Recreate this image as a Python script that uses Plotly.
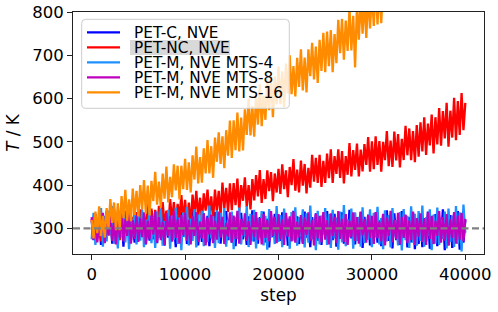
import plotly.graph_objects as go

STEP_INTERVAL = 200

pet_c = [318, 273, 334, 288, 325, 262, 321, 269, 340, 284, 329, 265, 314, 276, 337, 280, 331, 258, 323, 285, 336, 271, 311, 267, 327,
         278, 339, 282, 326, 263, 315, 272, 341, 275, 319, 266, 330, 287, 335, 260, 324, 279, 333, 270, 317, 257, 328, 274, 338, 281,
         332, 264, 320, 276, 343, 283, 327, 261, 316, 269, 335, 278, 329, 259, 321, 272, 338, 286, 333, 265, 325, 281, 340, 273, 313,
         267, 323, 259, 330, 282, 336, 275, 314, 262, 328, 279, 342, 270, 319, 265, 326, 284, 339, 268, 322, 256, 331, 280, 334, 273,
         324, 271, 337, 285, 331, 260, 318, 274, 341, 277, 328, 264, 315, 267, 339, 279, 330, 257, 326, 283, 335, 272, 322, 262, 333,
         283, 340, 269, 321, 273, 334, 258, 325, 281, 337, 265, 316, 271, 343, 277, 330, 263, 320, 274, 338, 255, 327, 278, 332, 261,
         328, 276, 336, 267, 319, 259, 331, 282, 342, 271, 323, 254, 335, 273, 317, 262, 340, 279, 330, 256, 326, 268, 337, 252, 321,
         264, 329, 257, 324, 270, 339, 253, 318, 266, 333, 259, 327, 275, 344, 250, 322, 262, 331, 255, 335, 272, 340, 251, 326, 267,
         320]

pet_nc = [322, 283, 332, 277, 314, 270, 331, 295, 340, 284, 322, 278, 345, 294, 333, 273, 329, 287, 341, 300, 346, 286, 327, 283, 338,
          295, 344, 283, 333, 293, 357, 309, 346, 293, 343, 287, 352, 311, 361, 307, 341, 302, 368, 315, 361, 300, 357, 324, 377, 315,
          366, 310, 360, 307, 378, 331, 387, 324, 371, 317, 381, 341, 390, 329, 374, 319, 390, 340, 387, 330, 406, 347, 394, 338, 404,
          342, 405, 354, 415, 340, 400, 364, 418, 350, 400, 344, 414, 365, 423, 374, 435, 359, 414, 368, 434, 386, 430, 363, 427, 383,
          438, 380, 448, 391, 434, 372, 442, 400, 460, 387, 436, 383, 457, 399, 449, 381, 440, 394, 470, 408, 463, 405, 470, 396, 456,
          405, 473, 416, 483, 405, 467, 426, 483, 417, 479, 404, 467, 424, 497, 420, 481, 435, 496, 420, 482, 432, 495, 447, 511, 431,
          501, 437, 513, 447, 502, 431, 500, 458, 525, 444, 503, 442, 524, 457, 518, 441, 507, 458, 537, 469, 531, 458, 525, 453, 539,
          466, 545, 478, 557, 470, 542, 492, 563, 473, 557, 494, 578, 491, 571, 508, 590, 489, 572, 510, 602, 504, 594, 516, 613, 527,
          590]

pet_m_mts4 = [275, 336, 262, 318, 283, 347, 258, 329, 270, 341, 287, 352, 265, 322, 254, 338, 279, 345, 268, 331, 252, 326, 281, 349, 263,
              334, 272, 344, 257, 320, 285, 351, 266, 327, 255, 339, 278, 346, 260, 317, 288, 343, 253, 330, 274, 348, 264, 325, 250, 337,
              280, 350, 261, 323, 271, 345, 256, 332, 284, 341, 259, 319, 268, 353, 277, 328, 255, 342, 266, 336, 289, 347, 258, 321, 273,
              339, 252, 327, 276, 348, 263, 316, 282, 351, 257, 334, 270, 343, 254, 324, 286, 340, 261, 329, 251, 345, 279, 318, 264, 352,
              269, 331, 257, 346, 284, 322, 253, 338, 272, 349, 260, 326, 281, 344, 256, 335, 267, 353, 275, 320, 250, 341, 263, 330, 286,
              347, 262, 333, 255, 343, 277, 325, 251, 339, 268, 354, 259, 321, 280, 346, 253, 337, 271, 327, 258, 349, 266, 318, 274, 344,
              257, 336, 279, 350, 263, 324, 252, 342, 270, 331, 256, 347, 284, 319, 261, 338, 249, 345, 273, 329, 255, 351, 267, 334, 260,
              340, 271, 353, 258, 326, 283, 344, 250, 332, 265, 348, 262, 321, 276, 339, 254, 346, 269, 330, 257, 352, 264, 337, 247, 355,
              290]

pet_m_mts8 = [326, 274, 331, 268, 317, 281, 336, 266, 322, 285, 333, 271, 314, 263, 328, 279, 338, 270, 321, 283, 334, 265, 319, 276, 330,
              269, 324, 280, 337, 264, 318, 275, 332, 286, 339, 267, 326, 273, 315, 262, 335, 282, 329, 270, 340, 278, 321, 265, 331, 284,
              336, 272, 320, 263, 329, 283, 338, 269, 316, 277, 334, 261, 325, 286, 332, 266, 318, 274, 339, 279, 327, 264, 313, 281, 337,
              268, 330, 276, 341, 265, 322, 284, 335, 271, 317, 262, 331, 280, 338, 273, 324, 263, 334, 278, 319, 270, 340, 283, 327, 266,
              333, 275, 321, 262, 336, 281, 328, 270, 339, 267, 316, 279, 331, 264, 325, 285, 337, 272, 320, 261, 334, 277, 329, 268, 338,
              274, 319, 263, 335, 283, 327, 266, 340, 276, 322, 269, 333, 262, 318, 280, 337, 271, 326, 265, 339, 284, 321, 267, 331, 278,
              329, 264, 338, 277, 316, 270, 334, 261, 325, 282, 341, 268, 320, 275, 336, 263, 327, 279, 332, 266, 318, 273, 339, 262, 324,
              281, 335, 269, 323, 262, 337, 276, 329, 264, 318, 283, 340, 267, 326, 272, 333, 260, 321, 278, 338, 265, 330, 274, 336, 270,
              322]

pet_m_mts16 = [320, 277, 339, 289, 351, 282, 329, 279, 347, 300, 368, 313, 360, 296, 358, 296, 375, 324, 389, 318, 367, 317, 392, 331, 387,
               328, 400, 344, 412, 334, 399, 330, 410, 363, 431, 355, 408, 348, 427, 369, 443, 360, 419, 372, 448, 388, 445, 367, 445, 391,
               461, 389, 453, 383, 469, 413, 489, 404, 465, 406, 485, 427, 504, 427, 490, 417, 510, 454, 522, 449, 513, 439, 527, 468, 549,
               463, 550, 481, 568, 478, 556, 480, 575, 516, 600, 515, 582, 512, 608, 540, 633, 536, 607, 551, 646, 573, 652, 557, 651, 587,
               674, 587, 663, 580, 681, 612, 700, 610, 675, 605, 694, 627, 714, 619, 695, 614, 714, 652, 729, 644, 720, 636, 736, 664, 752,
               661, 755, 675, 758, 661, 749, 682, 782, 705, 784, 690, 780, 710, 809, 711, 791, 672, 817, 736, 831, 750, 828, 740, 844, 762,
               848, 768, 865, 771, 859, 774, 876, 802, 898, 805, 892, 808, 910]

series_names = ["PET-C, NVE", "PET-NC, NVE", "PET-M, NVE MTS-4", "PET-M, NVE MTS-8", "PET-M, NVE MTS-16"]
series_values = [pet_c, pet_nc, pet_m_mts4, pet_m_mts8, pet_m_mts16]
series_colors = ["#0000ff", "#ff0000", "#1e90ff", "#bf00bf", "#ff8c00"]

x_ticks = [0, 10000, 20000, 30000, 40000]
y_ticks = [300, 400, 500, 600, 700, 800]
reference_T = 300

FONT = "DejaVu Sans"
W, H = 498, 312
L, R, T, B = 73, 484, 12, 254

def px(xp):
    return (xp - L) / (R - L)

def py(yp):
    return 1 - (yp - T) / (B - T)

fig = go.Figure()
for name, vals, col in zip(series_names, series_values, series_colors):
    steps = [i * STEP_INTERVAL for i in range(len(vals))]
    fig.add_trace(go.Scatter(x=steps, y=vals, mode="lines", name=name,
                             line=dict(color=col, width=2.3, simplify=False), showlegend=False))

shapes = []
shapes.append(dict(type="line", xref="paper", yref="y", x0=0, x1=1, y0=reference_T, y1=reference_T,
                   line=dict(color="#808080", width=2.2, dash="7px,3.5px"), layer="above"))

lx0, lx1, ly0, ly1 = 81.7, 289.3, 19.3, 108.3
rad = 4
pts = [("M", lx0 + rad, ly0), ("L", lx1 - rad, ly0), ("Q", lx1, ly0, lx1, ly0 + rad),
       ("L", lx1, ly1 - rad), ("Q", lx1, ly1, lx1 - rad, ly1), ("L", lx0 + rad, ly1),
       ("Q", lx0, ly1, lx0, ly1 - rad), ("L", lx0, ly0 + rad), ("Q", lx0, ly0, lx0 + rad, ly0)]
path = ""
for p in pts:
    cmd, coords = p[0], p[1:]
    path += cmd + " " + " ".join(f"{px(coords[k]):.5f},{py(coords[k+1]):.5f}" for k in range(0, len(coords), 2)) + " "
path += "Z"
shapes.append(dict(type="path", xref="paper", yref="paper", path=path,
                   fillcolor="rgba(255,255,255,0.8)", line=dict(color="#cccccc", width=1), layer="above"))
shapes.append(dict(type="rect", xref="paper", yref="paper", x0=px(130), x1=px(230), y0=py(55), y1=py(40),
                   fillcolor="#d9d9d9", line=dict(width=0), layer="above"))

annotations = []
row_y = [32.3, 47.3, 62.3, 77.3, 92.3]
for name, col, ry in zip(series_names, series_colors, row_y):
    shapes.append(dict(type="line", xref="paper", yref="paper", x0=px(87), x1=px(120), y0=py(ry), y1=py(ry),
                       line=dict(color=col, width=2.2), layer="above"))
    annotations.append(dict(x=px(131.5), y=py(ry + 0.5), xref="paper", yref="paper", text=name,
                            showarrow=False, xanchor="left", yanchor="middle",
                            font=dict(family=FONT, size=15.3, color="black")))

fig.update_layout(
    width=W, height=H,
    margin=dict(l=L, r=W - R, t=T, b=H - B, autoexpand=False),
    paper_bgcolor="white", plot_bgcolor="white",
    font=dict(family=FONT, size=16.5, color="black"),
    shapes=shapes, annotations=annotations, showlegend=False,
)
fig.update_xaxes(range=[-2000, 42000], tickvals=x_ticks, tickformat="d", ticks="outside", ticklen=5,
                 tickwidth=1, tickcolor="#222", showline=True, linecolor="#222", linewidth=1, mirror=True,
                 showgrid=False, zeroline=False, tickfont=dict(size=16.5), automargin=False,
                 title=dict(text="step", font=dict(size=16.8), standoff=6))
fig.update_yaxes(range=[241, 800], tickvals=y_ticks, ticks="outside", ticklen=5,
                 tickwidth=1, tickcolor="#222", showline=True, linecolor="#222", linewidth=1, mirror=True,
                 showgrid=False, zeroline=False, tickfont=dict(size=16.5), automargin=False,
                 title=dict(text="<i>T</i> / K", font=dict(size=16.8), standoff=8))

fig.write_html("out.html", config={"displayModeBar": False},
               post_script="document.body.style.margin='0';document.body.style.padding='0';")
